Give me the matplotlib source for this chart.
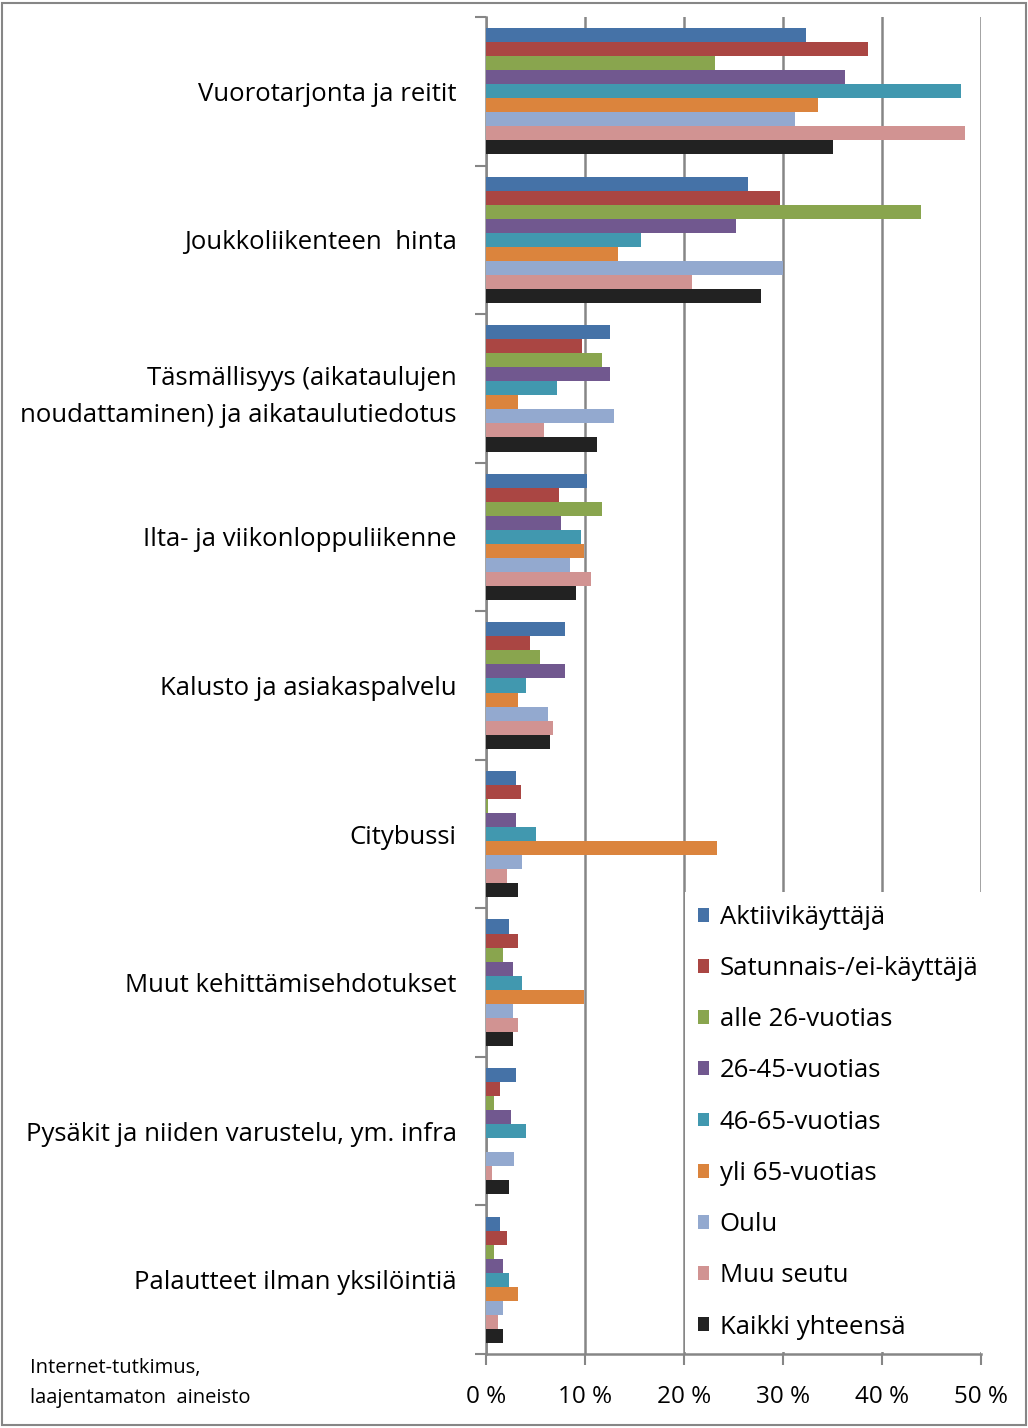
import matplotlib.pyplot as plt
from matplotlib.patches import Patch, Rectangle
import numpy as np

plt.rcParams['font.family'] = ['Open Sans', 'DejaVu Sans']

categories = ['Vuorotarjonta ja reitit', 'Joukkoliikenteen  hinta',
              'Täsmällisyys (aikataulujen\nnoudattaminen) ja aikataulutiedotus',
              'Ilta- ja viikonloppuliikenne', 'Kalusto ja asiakaspalvelu',
              'Citybussi', 'Muut kehittämisehdotukset',
              'Pysäkit ja niiden varustelu, ym. infra',
              'Palautteet ilman yksilöintiä']

series_names = ['Aktiivikäyttäjä', 'Satunnais-/ei-käyttäjä', 'alle 26-vuotias',
                '26-45-vuotias', '46-65-vuotias', 'yli 65-vuotias', 'Oulu',
                'Muu seutu', 'Kaikki yhteensä']

aktiivi   = [32.3, 26.5, 12.5, 10.2, 8.0, 3.0, 2.3, 3.0, 1.4]
satunnais = [38.6, 29.7, 9.7, 7.4, 4.4, 3.5, 3.2, 1.4, 2.1]
alle26    = [23.1, 43.9, 11.7, 11.7, 5.5, 0.2, 1.7, 0.8, 0.8]
v26_45    = [36.3, 25.3, 12.5, 7.6, 8.0, 3.0, 2.7, 2.5, 1.7]
v46_65    = [48.0, 15.7, 7.2, 9.6, 4.0, 5.1, 3.6, 4.0, 2.3]
yli65     = [33.5, 13.3, 3.2, 9.9, 3.2, 23.3, 9.9, 0.0, 3.2]
oulu      = [31.2, 30.0, 12.9, 8.5, 6.3, 3.6, 2.7, 2.8, 1.7]
muu_seutu = [48.4, 20.8, 5.9, 10.6, 6.8, 2.1, 3.2, 0.6, 1.2]
kaikki    = [35.1, 27.8, 11.2, 9.1, 6.5, 3.2, 2.7, 2.3, 1.7]

data = [aktiivi, satunnais, alle26, v26_45, v46_65, yli65, oulu, muu_seutu, kaikki]
colors = ['#4572A7', '#AA4643', '#89A54E', '#71588F', '#4198AF',
          '#DB843D', '#93A9CF', '#D19392', '#222222']

xticks = [0, 10, 20, 30, 40, 50]
xticklabels = ['0\u00a0%', '10\u00a0%', '20\u00a0%', '30\u00a0%', '40\u00a0%', '50\u00a0%']

fig = plt.figure(figsize=(10.28, 14.28), dpi=100)
ax = fig.add_axes([486 / 1028, 74 / 1428, 495 / 1028, 1337 / 1428])

y = np.arange(len(categories))
h = 0.85 / len(data)
for j, (vals, c) in enumerate(zip(data, colors)):
    ax.barh(y + (j - 4) * h, vals, height=h, color=c, zorder=3)

ax.set_xlim(0, 50)
ax.set_ylim(len(categories) - 0.5, -0.5)
ax.set_xticks(xticks)
ax.set_xticklabels(xticklabels, fontsize=17.5)
ax.set_yticks(y)
ax.set_yticklabels(categories, fontsize=18.5, linespacing=1.6)
ax.set_yticks(np.arange(len(categories) + 1) - 0.5, minor=True)
ax.tick_params(axis='y', which='major', length=0, pad=21)
ax.tick_params(axis='y', which='minor', length=8, color='#868686', width=1.5)
ax.tick_params(axis='x', length=8, color='#868686', width=1.5, pad=14)
ax.xaxis.grid(True, color='#868686', linewidth=1.8, zorder=0)
for s in ['top', 'right']:
    ax.spines[s].set_visible(False)
for s in ['left', 'bottom']:
    ax.spines[s].set_color('#868686')
    ax.spines[s].set_linewidth(1.8)

handles = [Patch(facecolor=c, edgecolor='none') for c in colors]
leg = ax.legend(handles, series_names, loc='upper left',
                bbox_to_anchor=(685 / 1028, 1 - 892 / 1428),
                bbox_transform=fig.transFigure, fontsize=18.5,
                handlelength=0.45, handleheight=0.45, handletextpad=0.4,
                labelspacing=1.02, borderpad=0.5, frameon=True,
                fancybox=False, framealpha=1, borderaxespad=0)
leg.get_frame().set_edgecolor('none')
leg.get_frame().set_facecolor('white')
leg.set_zorder(5)

fig.text(30 / 1028, 1 - 1383 / 1428, 'Internet-tutkimus,\nlaajentamaton  aineisto',
         fontsize=14.5, va='center', linespacing=1.65)

fig.patches.append(Rectangle((0.002, 0.002), 0.996, 0.996, transform=fig.transFigure,
                             fill=False, edgecolor='#868686', linewidth=1.5))

fig.savefig('out.png', dpi=100)
